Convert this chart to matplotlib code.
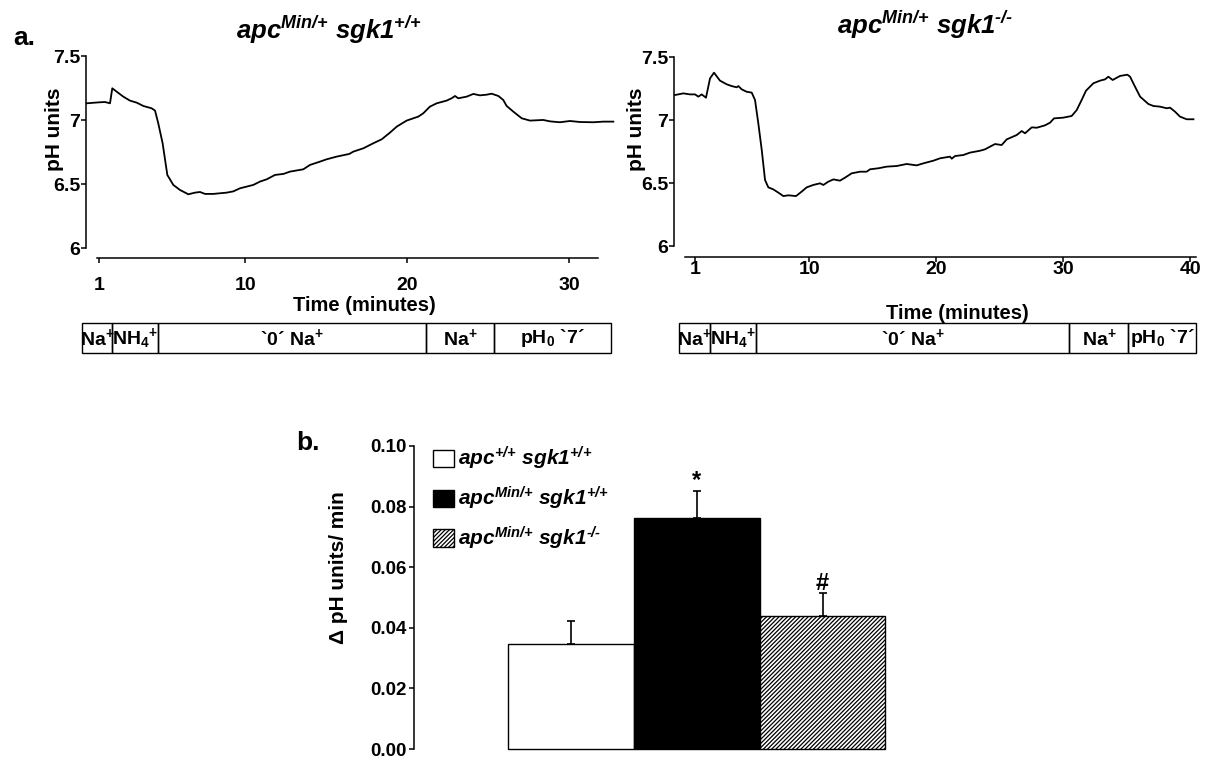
import numpy as np
import matplotlib
matplotlib.use("Agg")
import matplotlib.pyplot as plt
from matplotlib.patches import Rectangle
from matplotlib.transforms import blended_transform_factory

# ---- data ----
# a. pH trace, apc Min/+ sgk1 +/+
wt_time = [0.21, 0.72, 1.03, 1.34, 1.65, 1.79, 2.06, 2.47, 2.88, 3.30, 3.71, 4.22,
           4.43, 4.63, 4.90, 5.19, 5.56, 5.97, 6.49, 6.90, 7.21, 7.52, 8.03, 8.44,
           8.86, 9.27, 9.68, 10.09, 10.50, 10.91, 11.33, 11.84, 12.36, 12.77, 13.59,
           14.00, 14.62, 15.03, 15.65, 16.43, 16.68, 17.30, 17.91, 18.43, 18.94,
           19.36, 19.97, 20.69, 21.00, 21.41, 21.83, 22.44, 22.75, 22.96, 23.16,
           23.68, 24.09, 24.50, 24.91, 25.22, 25.64, 25.94, 26.15, 26.56, 27.08,
           27.59, 28.41, 28.83, 29.44, 30.06, 30.68, 31.50, 32.12, 32.74]
wt_ph = [7.131, 7.136, 7.139, 7.141, 7.131, 7.248, 7.222, 7.183, 7.152, 7.136, 7.110,
         7.092, 7.074, 6.975, 6.819, 6.572, 6.494, 6.455, 6.421, 6.434, 6.439, 6.424,
         6.424, 6.429, 6.434, 6.444, 6.468, 6.481, 6.494, 6.520, 6.538, 6.572, 6.580,
         6.598, 6.616, 6.650, 6.676, 6.694, 6.715, 6.736, 6.754, 6.780, 6.819, 6.850,
         6.902, 6.949, 6.996, 7.027, 7.053, 7.105, 7.131, 7.152, 7.170, 7.188, 7.170,
         7.183, 7.204, 7.193, 7.198, 7.206, 7.188, 7.157, 7.110, 7.066, 7.014, 6.996,
         7.001, 6.990, 6.983, 6.993, 6.985, 6.983, 6.988, 6.988]

# a. pH trace, apc Min/+ sgk1 -/-
ko_time = [-0.56, 0.10, 0.62, 1.02, 1.28, 1.54, 1.88, 2.20, 2.51, 2.98, 3.51, 3.90,
           4.30, 4.43, 4.69, 5.08, 5.48, 5.74, 6.00, 6.27, 6.53, 6.79, 7.18, 7.58,
           7.97, 8.37, 8.97, 9.41, 9.81, 10.33, 10.86, 11.12, 11.51, 11.91, 12.43,
           12.83, 13.35, 14.01, 14.53, 14.80, 15.45, 16.11, 16.90, 17.68, 18.47,
           18.99, 19.78, 20.31, 21.09, 21.23, 21.49, 22.14, 22.67, 23.46, 23.85,
           24.24, 24.64, 25.16, 25.56, 26.34, 26.74, 27.00, 27.53, 27.92, 28.57,
           28.97, 29.28, 30.02, 30.67, 31.07, 31.46, 31.80, 32.38, 32.91, 33.30,
           33.56, 33.90, 34.48, 35.06, 35.27, 35.66, 36.06, 36.71, 37.11, 37.63,
           38.16, 38.42, 38.81, 39.20, 39.73, 40.26]
ko_ph = [7.199, 7.212, 7.204, 7.204, 7.186, 7.204, 7.178, 7.331, 7.376, 7.313, 7.284,
         7.270, 7.260, 7.270, 7.244, 7.225, 7.218, 7.160, 6.975, 6.764, 6.526, 6.468,
         6.452, 6.426, 6.399, 6.405, 6.399, 6.434, 6.468, 6.487, 6.500, 6.487, 6.513,
         6.531, 6.521, 6.545, 6.579, 6.592, 6.592, 6.611, 6.619, 6.632, 6.637, 6.653,
         6.642, 6.658, 6.679, 6.698, 6.711, 6.695, 6.716, 6.724, 6.743, 6.758, 6.769,
         6.790, 6.811, 6.803, 6.848, 6.882, 6.914, 6.896, 6.943, 6.940, 6.959, 6.980,
         7.014, 7.020, 7.033, 7.080, 7.160, 7.233, 7.292, 7.313, 7.323, 7.344, 7.318,
         7.350, 7.360, 7.344, 7.265, 7.186, 7.128, 7.112, 7.107, 7.094, 7.099, 7.067,
         7.028, 7.007, 7.007]

# solution protocol below each trace (segment borders in minutes)
segment_labels = [r'Na$^\mathbf{+}$', r'NH$_\mathbf{4}{}^\mathbf{+}$',
                  r'`0´ Na$^\mathbf{+}$', r'Na$^\mathbf{+}$', r'pH$_\mathbf{0}$ `7´']
wt_bounds = [-0.10, 1.77, 4.64, 21.17, 25.36, 32.61]
ko_bounds = [-0.23, 2.17, 5.84, 30.50, 35.13, 40.45]

ph_ticks = [6, 6.5, 7, 7.5]
ph_ticklabels = ['6', '6.5', '7', '7.5']
wt_xticks = [1, 10, 20, 30]
ko_xticks = [1, 10, 20, 30, 40]

# b. recovery rate
groups = [r'apc$^{\text{+/+}}$ sgk1$^{\text{+/+}}$',
          r'apc$^{\text{Min/+}}$ sgk1$^{\text{+/+}}$',
          r'apc$^{\text{Min/+}}$ sgk1$^{\text{-/-}}$']
rate_mean = [0.0346, 0.0763, 0.0438]
rate_sem = [0.0078, 0.0090, 0.0077]
sig_marks = ['', '*', '#']
rate_ticks = [0.00, 0.02, 0.04, 0.06, 0.08, 0.10]

# ---- style ----
plt.rcParams['font.family'] = ['Liberation Sans', 'DejaVu Sans']
plt.rcParams['font.weight'] = 'bold'
plt.rcParams['mathtext.fontset'] = 'custom'
plt.rcParams['mathtext.rm'] = 'Liberation Sans:italic:bold'
plt.rcParams['mathtext.it'] = 'Liberation Sans:italic:bold'
plt.rcParams['mathtext.bf'] = 'Liberation Sans:bold'
plt.rcParams['hatch.linewidth'] = 0.9

W, H = 1213, 758
fig = plt.figure(figsize=(W / 100, H / 100), dpi=100)


def box(left, top, right, bottom):
    return [left / W, 1 - bottom / H, (right - left) / W, (bottom - top) / H]


def fxy(x, y):
    return x / W, 1 - y / H


def trace_panel(rect, t, ph, xlim, ylim, xticks, xbounds, pad, bounds):
    ax = fig.add_axes(rect)
    ax.plot(t, ph, color='black', lw=1.3, clip_on=False)
    ax.set_xlim(xlim)
    ax.set_ylim(ylim)
    for s in ['top', 'right']:
        ax.spines[s].set_visible(False)
    ax.spines['left'].set_bounds(6, 7.5)
    ax.spines['bottom'].set_bounds(*xbounds)
    for s in ['left', 'bottom']:
        ax.spines[s].set_linewidth(1.1)
    ax.set_yticks(ph_ticks, ph_ticklabels)
    ax.set_xticks(xticks, [str(v) for v in xticks])
    ax.tick_params(axis='y', direction='out', length=3.5, width=1.1, pad=0.5,
                   labelsize=14)
    ax.tick_params(axis='x', direction='out', length=3.5, width=1.1, pad=pad,
                   labelsize=14)
    # protocol boxes
    tr = blended_transform_factory(ax.transData, fig.transFigure)
    y0 = 1 - 353.3 / H
    h = 30 / H
    for b0, b1, lab in zip(bounds[:-1], bounds[1:], segment_labels):
        ax.add_patch(Rectangle((b0, y0), b1 - b0, h, transform=tr, fill=False,
                               lw=1.0, edgecolor='black', clip_on=False))
        ax.text((b0 + b1) / 2, y0 + h / 2, lab, transform=tr, ha='center',
                va='center', fontsize=14, clip_on=False)
    return ax


ax1 = trace_panel(box(86, 56, 614, 258), wt_time, wt_ph, (0.167, 32.78),
                  (5.924, 7.5), wt_xticks, (0.85, 31.8), 10.5, wt_bounds)
ax2 = trace_panel(box(674, 57, 1198.4, 256.7), ko_time, ko_ph, (-0.638, 40.65),
                  (5.919, 7.5), ko_xticks, (0.23, 40.5), -0.5, ko_bounds)

title_kw = dict(ha='center', va='center', fontsize=18.5, style='italic')
fig.text(*fxy(329, 30), groups[1], **title_kw)
fig.text(*fxy(925, 25), groups[2], **title_kw)
fig.text(*fxy(55, 129), 'pH units', rotation=90, ha='center', va='center', fontsize=15)
fig.text(*fxy(637, 129), 'pH units', rotation=90, ha='center', va='center', fontsize=15)
fig.text(*fxy(364, 305), 'Time (minutes)', ha='center', va='center', fontsize=14.5)
fig.text(*fxy(957, 314), 'Time (minutes)', ha='center', va='center', fontsize=14.5)
fig.text(*fxy(24, 38), 'a.', ha='center', va='center', fontsize=19)
fig.text(*fxy(308, 443), 'b.', ha='center', va='center', fontsize=19)

# ---- b. bar chart ----
ax3 = fig.add_axes(box(414, 446, 898, 749))
x = np.arange(len(groups))
faces = ['white', 'black', 'white']
hatches = [None, None, '////////']
for i in range(len(groups)):
    ax3.bar(x[i], rate_mean[i], width=1.0, color=faces[i], edgecolor='black',
            hatch=hatches[i], lw=1.0, label=groups[i], clip_on=False, zorder=2)
ax3.errorbar(x, rate_mean, yerr=[np.zeros(len(x)), rate_sem], fmt='none',
             ecolor='black', elinewidth=1.2, capsize=3, capthick=1.2, zorder=3)
for i, m in enumerate(sig_marks):
    if m:
        ax3.text(x[i], rate_mean[i] + rate_sem[i] + 0.001, m, ha='center',
                 va='baseline', fontsize=17)
ax3.set_xlim(-1.247, 2.6)
ax3.set_ylim(0, 0.10)
ax3.set_xticks([])
ax3.set_yticks(rate_ticks, ['%.2f' % v for v in rate_ticks])
ax3.tick_params(axis='y', direction='out', length=3.5, width=1.1, pad=2, labelsize=13.5)
for s in ['top', 'right', 'bottom']:
    ax3.spines[s].set_visible(False)
ax3.spines['left'].set_linewidth(1.1)
ax3.legend(loc='upper left', bbox_to_anchor=fxy(433, 445), bbox_transform=fig.transFigure,
           frameon=False, prop=dict(size=15, style='italic', weight='bold'),
           handlelength=1.0, handleheight=0.9, handletextpad=0.2, labelspacing=0.6,
           borderpad=0, borderaxespad=0)
fig.text(*fxy(338, 568), 'Δ pH units/ min', rotation=90, ha='center', va='center',
         fontsize=15)

fig.savefig('out.png', dpi=100, facecolor='white')
